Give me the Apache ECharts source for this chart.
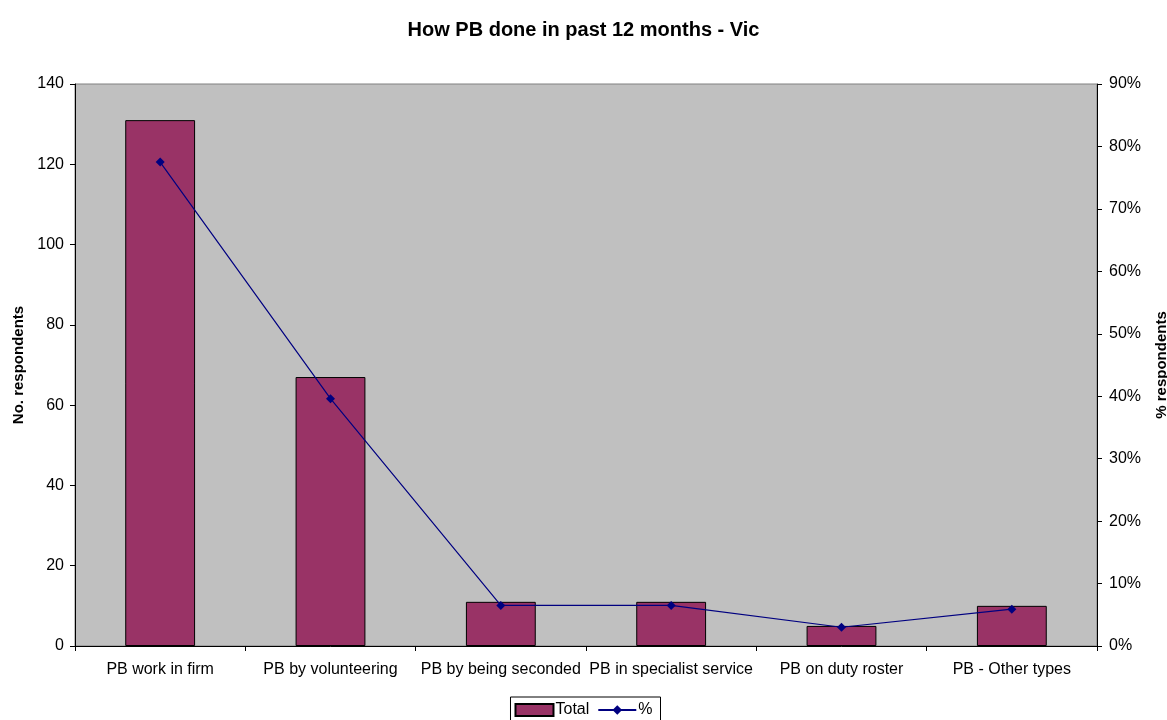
<!DOCTYPE html>
<html>
<head>
<meta charset="utf-8">
<script src="https://cdn.jsdelivr.net/npm/echarts@6/dist/echarts.min.js"></script>
<style>
html, body { margin: 0; padding: 0; background: #fff; }
#chart { width: 1167px; height: 720px; }
</style>
</head>
<body>
<div id="chart"></div>
<script>
var categories = ['PB work in firm', 'PB by volunteering', 'PB by being seconded', 'PB in specialist service', 'PB on duty roster', 'PB - Other types'];
var totals = [131, 67, 11, 11, 5, 10];
var percents = [77.5, 39.6, 6.5, 6.5, 3.0, 5.9];
var leftTicks = [0, 140, 20];
var rightTicks = [0, 90, 10];

var chart = echarts.init(document.getElementById('chart'));
var font = 'Liberation Sans, Arial, sans-serif';
chart.setOption({
	textStyle: { fontFamily: font },
	title: {
		text: 'How PB done in past 12 months - Vic',
		left: 'center',
		top: 15,
		textStyle: { fontSize: 20, fontWeight: 'bold', color: '#000', fontFamily: font }
	},
	grid: {
		left: 75,
		right: 70,
		top: 84,
		bottom: 74,
		outerBoundsMode: 'none',
		containLabel: false,
		show: true,
		backgroundColor: '#c0c0c0',
		borderColor: '#808080',
		borderWidth: 1
	},
	legend: {
		top: 697,
		left: 'center',
		borderColor: '#000',
		borderWidth: 1,
		padding: [5, 8, 8, 4],
		itemGap: 8,
		itemWidth: 38,
		itemHeight: 12,
		textStyle: { fontSize: 16, color: '#000', fontFamily: font, padding: [0, 0, 0, -3] },
		data: [
			{ name: 'Total', icon: 'rect' },
			{ name: '%' }
		]
	},
	xAxis: {
		type: 'category',
		data: categories,
		axisLine: { lineStyle: { color: '#000' } },
		axisTick: { show: true, lineStyle: { color: '#000' }, length: 5 },
		axisLabel: { color: '#000', fontSize: 16, margin: 16, interval: 0 }
	},
	yAxis: [{
		type: 'value',
		min: leftTicks[0],
		max: leftTicks[1],
		interval: leftTicks[2],
		name: 'No. respondents',
		nameLocation: 'middle',
		nameGap: 48,
		nameTextStyle: { fontSize: 15, fontWeight: 'bold', color: '#000' },
		axisLine: { show: true, lineStyle: { color: '#000' } },
		axisTick: { show: true, lineStyle: { color: '#000' }, length: 5 },
		axisLabel: { color: '#000', fontSize: 16, margin: 11 },
		splitLine: { show: false }
	}, {
		type: 'value',
		min: rightTicks[0],
		max: rightTicks[1],
		interval: rightTicks[2],
		name: '% respondents',
		nameLocation: 'middle',
		nameGap: 57,
		nameRotate: 90,
		nameTextStyle: { fontSize: 15, fontWeight: 'bold', color: '#000' },
		axisLine: { show: true, lineStyle: { color: '#000' } },
		axisTick: { show: true, lineStyle: { color: '#000' }, length: 5 },
		axisLabel: { color: '#000', fontSize: 16, margin: 12, formatter: '{value}%' },
		splitLine: { show: false }
	}],
	series: [{
		name: 'Total',
		type: 'bar',
		data: totals,
		barWidth: '41%',
		itemStyle: { color: '#993366', borderColor: '#000', borderWidth: 1 }
	}, {
		name: '%',
		type: 'line',
		yAxisIndex: 1,
		data: percents,
		symbol: 'diamond',
		symbolSize: 9,
		lineStyle: { color: '#000080', width: 1.2 },
		itemStyle: { color: '#000080' }
	}]
});
</script>
</body>
</html>
